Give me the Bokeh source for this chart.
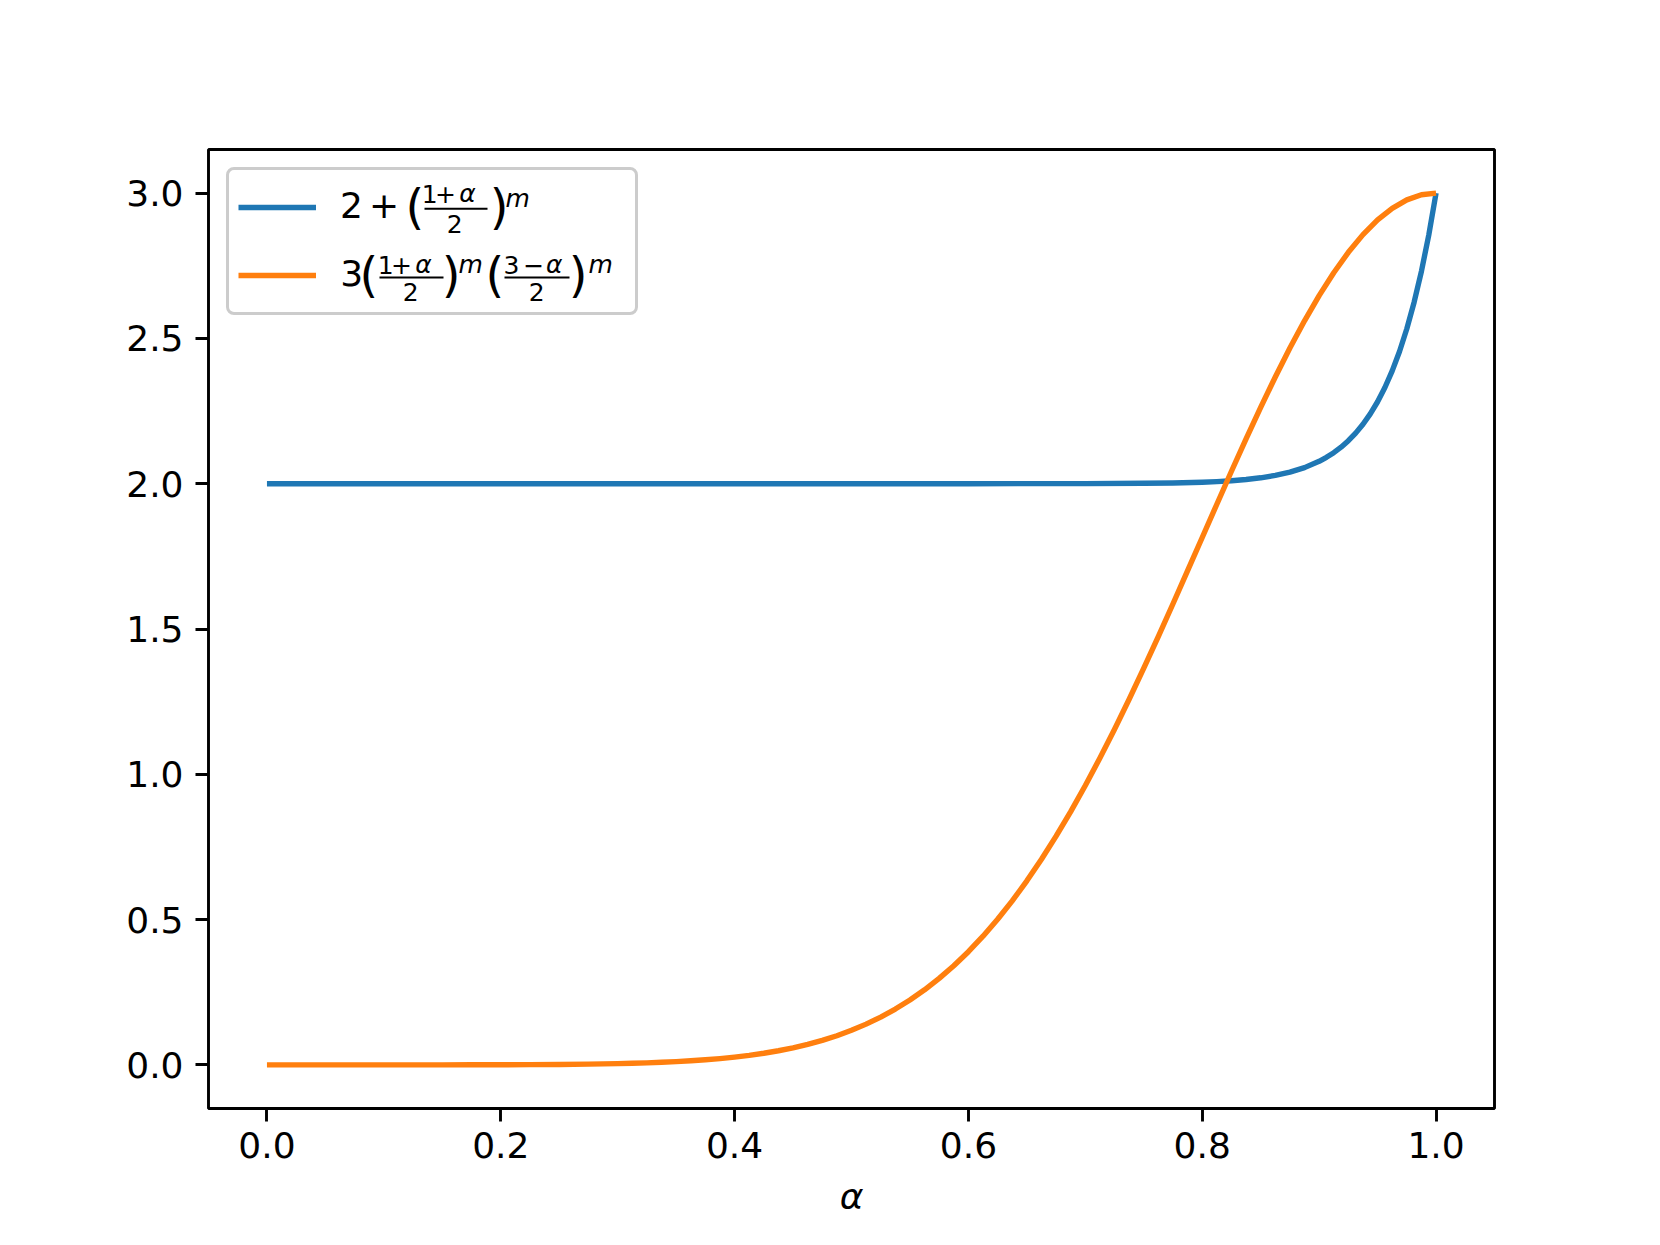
from bokeh.plotting import figure
from bokeh.models import (Range1d, FixedTicker, PrintfTickFormatter, Legend,
                          LegendItem, Label, BoxAnnotation, ColumnDataSource)
from bokeh.embed import file_html
from bokeh.resources import INLINE

# ---------------- data ----------------
alpha_orange = [0.0, 0.025, 0.05, 0.075, 0.1, 0.125, 0.15, 0.175, 0.2, 0.225,
                0.25, 0.275, 0.3, 0.3125, 0.325, 0.3375, 0.35, 0.3625, 0.375, 0.3875,
                0.4, 0.4125, 0.425, 0.4375, 0.45, 0.4625, 0.475, 0.4875,
                0.5, 0.5125, 0.525, 0.5375, 0.55, 0.5625, 0.575, 0.5875,
                0.6, 0.6125, 0.625, 0.6375, 0.65, 0.6625, 0.675, 0.6875,
                0.7, 0.7125, 0.725, 0.7375, 0.75, 0.7625, 0.775, 0.7875,
                0.8, 0.8125, 0.825, 0.8375, 0.85, 0.8625, 0.875, 0.8875,
                0.9, 0.9125, 0.925, 0.9375, 0.95, 0.9625, 0.975, 0.9875, 1.0]
orange_vals = [0.0, 0.0, 0.0, 0.0, 0.0, 0.0001, 0.0001, 0.0003, 0.0005, 0.0009,
               0.0015, 0.0026, 0.0044, 0.0056, 0.0071, 0.009, 0.0113, 0.0142, 0.0176, 0.0218,
               0.0269, 0.0329, 0.0401, 0.0487, 0.0588, 0.0707, 0.0845, 0.1005,
               0.119, 0.1403, 0.1646, 0.1922, 0.2233, 0.2584, 0.2977, 0.3413,
               0.3896, 0.4428, 0.5011, 0.5646, 0.6334, 0.7076, 0.7871, 0.8718,
               0.9615, 1.0561, 1.1552, 1.2583, 1.3651, 1.4748, 1.5869, 1.7006,
               1.8149, 1.9294, 2.0428, 2.1542, 2.2628, 2.3672, 2.4668, 2.5604,
               2.6471, 2.726, 2.7962, 2.857, 2.9077, 2.9477, 2.9767, 2.9941, 3.0]

alpha_blue = [0.0, 0.1, 0.2, 0.3, 0.4, 0.5, 0.6, 0.7, 0.75, 0.775, 0.8, 0.8125, 0.825,
              0.8375, 0.85, 0.8625, 0.875, 0.8875, 0.9, 0.90625, 0.9125, 0.91875,
              0.925, 0.93125, 0.9375, 0.94375, 0.95, 0.95625, 0.9625, 0.96875,
              0.975, 0.98125, 0.9875, 0.99375, 1.0]
blue_vals = [2.0, 2.0, 2.0, 2.0, 2.0, 2.0, 2.0, 2.0003, 2.0013, 2.0026, 2.0052, 2.0073, 2.0103,
             2.0145, 2.0203, 2.0284, 2.0397, 2.0553, 2.0769, 2.0907, 2.1068, 2.1257,
             2.1479, 2.174, 2.2044, 2.2402, 2.282, 2.3309, 2.3881, 2.455,
             2.5332, 2.6244, 2.7309, 2.8551, 3.0]

x_ticks = [0.0, 0.2, 0.4, 0.6, 0.8, 1.0]
y_ticks = [0.0, 0.5, 1.0, 1.5, 2.0, 2.5, 3.0]
x_label = "α"

# ---------------- layout ----------------
FRAME_W, FRAME_H = 1286, 959
LEFT, TOP = 208, 149
X0, X1 = -0.05, 1.05
Y0, Y1 = -0.15, 3.15
FONT = "DejaVu Sans"

p = figure(frame_width=FRAME_W, frame_height=FRAME_H,
           min_border_left=LEFT, min_border_right=150,
           min_border_top=TOP, min_border_bottom=125,
           x_range=Range1d(X0, X1), y_range=Range1d(Y0, Y1),
           output_backend="svg", toolbar_location=None,
           background_fill_color="white", border_fill_color="white")

p.grid.visible = False
p.outline_line_color = "black"
p.outline_line_width = 2.9

for ax in (p.xaxis[0], p.yaxis[0]):
    ax.axis_line_color = None
    ax.major_tick_line_width = 2.9
    ax.major_tick_line_color = "black"
    ax.major_tick_out = 13
    ax.major_tick_in = 0
    ax.minor_tick_line_color = None
    ax.major_label_text_font = FONT
    ax.major_label_text_font_size = "36px"
    ax.major_label_text_color = "black"
    ax.formatter = PrintfTickFormatter(format="%.1f")

p.xaxis.ticker = FixedTicker(ticks=x_ticks)
p.yaxis.ticker = FixedTicker(ticks=y_ticks)
p.xaxis.major_label_standoff = 10
p.yaxis.major_label_standoff = 12
p.xaxis.axis_label = x_label
p.xaxis.axis_label_text_font = FONT
p.xaxis.axis_label_text_font_style = "italic"
p.xaxis.axis_label_text_font_size = "36px"
p.xaxis.axis_label_text_color = "black"
p.xaxis.axis_label_standoff = 15

src_b = ColumnDataSource(dict(x=alpha_blue, y=blue_vals))
src_o = ColumnDataSource(dict(x=alpha_orange, y=orange_vals))
r_b = p.line("x", "y", source=src_b, line_color="#1f77b4", line_width=5.4,
             line_join="round")
r_o = p.line("x", "y", source=src_o, line_color="#ff7f0e", line_width=5.4,
             line_join="round")

legend = Legend(items=[LegendItem(label="", renderers=[r_b]),
                       LegendItem(label="", renderers=[r_o])],
                location="top_left", margin=18, padding=9, spacing=12,
                glyph_width=78, glyph_height=56, label_width=305, label_height=56,
                label_standoff=5, border_line_color="#cccccc", border_line_width=3,
                border_line_alpha=1.0, background_fill_color=None,
                border_radius=8)
p.add_layout(legend)

# ---- legend math text (page-pixel layout -> data units) ----
def dx(px):
    return X0 + (px - LEFT) * (X1 - X0) / FRAME_W

def dy(py):
    return Y1 - (py - TOP) * (Y1 - Y0) / FRAME_H

MID = 0.346  # centre of the font box above the baseline, in em

# (text, left x, baseline y, size px, italic)
pieces = [
    ("2", 339.5, 216.7, 36, False), ("+", 368.4, 216.7, 36, False),
    ("(", 404.9, 223.2, 48, False),
    ("1", 421.3, 201.7, 25, False), ("+", 434.4, 201.7, 25, False), ("α", 458.7, 201.7, 25, True),
    ("2", 446.2, 231.7, 25, False),
    (")", 489.2, 223.2, 48, False), ("m", 505.0, 206.7, 25, True),

    ("3", 339.7, 284.7, 36, False),
    ("(", 358.9, 291.2, 48, False),
    ("1", 377.3, 273.0, 25, False), ("+", 390.4, 273.0, 25, False), ("α", 414.7, 273.0, 25, True),
    ("2", 402.2, 299.7, 25, False),
    (")", 441.2, 291.2, 48, False), ("m", 458.0, 273.0, 25, True),
    ("(", 484.9, 291.2, 48, False),
    ("3", 503.0, 273.0, 25, False), ("−", 522.7, 273.0, 25, False), ("α", 545.4, 273.0, 25, True),
    ("2", 528.2, 299.7, 25, False),
    (")", 568.2, 291.2, 48, False), ("m", 588.0, 273.0, 25, True),
]
for t, px, py, sz, it in pieces:
    p.add_layout(Label(x=dx(px), y=dy(py - MID * sz), text=t, text_font=FONT,
                       text_font_size=f"{sz}px", text_color="black",
                       text_font_style="italic" if it else "normal",
                       text_align="left", text_baseline="middle",
                       level="overlay"))

# fraction bars (x0, x1, y centre) in page pixels
bars = [(424, 487, 208.3), (379, 443, 277.0), (504, 569, 277.0)]
for bx0, bx1, by in bars:
    p.add_layout(BoxAnnotation(left=dx(bx0), right=dx(bx1), top=dy(by - 1.0),
                               bottom=dy(by + 1.0), fill_color="black",
                               fill_alpha=1.0, line_color=None, level="overlay"))

open("out.html", "w").write(file_html(p, INLINE))
